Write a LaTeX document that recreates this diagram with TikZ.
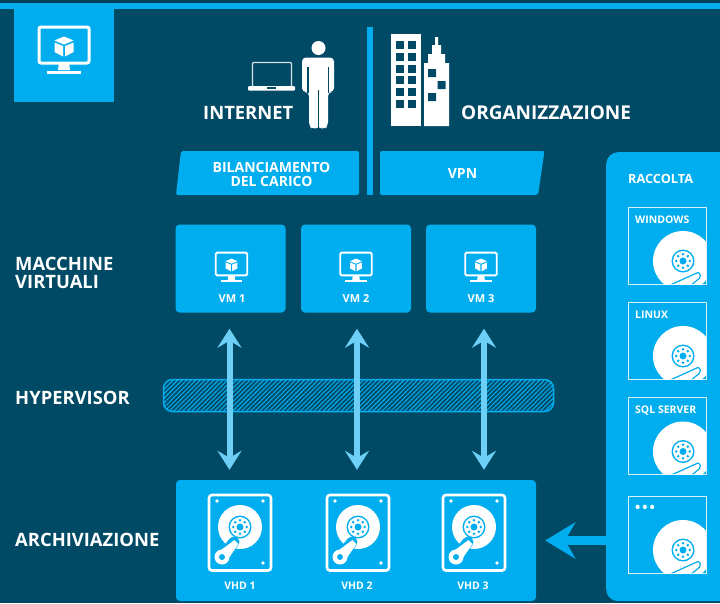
\documentclass[tikz,border=0pt]{standalone}
\usepackage{fontspec}
\setmainfont{Open Sans}
\usetikzlibrary{arrows.meta, patterns.meta}

\definecolor{ground}{RGB}{0, 74, 101}
\definecolor{panel}{RGB}{0, 174, 239}
\definecolor{pale}{RGB}{109, 207, 246}

\tikzset{
  heading/.style = {anchor = west, white, font = \bfseries\fontsize{18.4}{18.5}\selectfont, align = left, inner sep = 0pt},
  boxlabel/.style = {white, font = \bfseries\fontsize{#1}{#1}\selectfont, align = center, inner sep = 0pt},
  boxlabel/.default = 11,
  panelbox/.style = {fill = panel, rounded corners = 4pt, inner sep = 0pt},
  linkarrow/.style = {pale, line width = 6pt, {Stealth[length = 19pt, width = 24pt, inset = 7pt]}-{Stealth[length = 19pt, width = 24pt, inset = 7pt]}, shorten < = 16pt, shorten > = 10pt},
  poolarrow/.style = {panel, line width = 9pt, -{Stealth[length = 30pt, width = 36pt, inset = 10pt]}, shorten > = 9pt}
}

\newcommand{\monitoricon}[3]{
  \begin{scope}[shift = {(#1, #2)}, scale = #3]
    \draw [white, line width = #3 * 3pt, rounded corners = #3 * 2pt] (-25, -18) rectangle (25, 18);
    \fill [white] (-5, 18) -- (5, 18) -- (6, 25) -- (-6, 25) -- cycle;
    \draw [white, line width = #3 * 3pt] (-17, 27) -- (17, 27);
    \fill [white] (0, -8.5) -- (9.5, -4.5) -- (0, -0.5) -- (-9.5, -4.5) -- cycle;
    \fill [white] (-9.5, -2.5) -- (-1, 1) -- (-1, 11.5) -- (-9.5, 7) -- cycle;
    \fill [white] (9.5, -2.5) -- (1, 1) -- (1, 11.5) -- (9.5, 7) -- cycle;
  \end{scope}
}

\newcommand{\hubicon}[2]{
  \fill [panel] (#1, #2) circle (11.5);
  \fill [white] (#1, #2) circle (10);
  \foreach \a in {0, 45, ..., 315}
    \fill [panel] (#1, #2) ++(\a : 6.8) circle (1.4);
  \fill [panel] (#1, #2) circle (3.5);
}

\newcommand{\drivecon}[2]{
  \begin{scope}[shift = {(#1, #2)}]
    \draw [white, line width = 2.6pt, rounded corners = 3pt] (-31, -32) rectangle (31, 43.5);
    \fill [white] (0, 0) circle (22);
    \hubicon{0}{0}
    \fill [white] (-23, -26) circle (1.8) (23, -26) circle (1.8) (23, 36) circle (1.8);
    \fill [panel] (-18, 30) circle (9.5);
    \draw [panel, line width = 11pt, line cap = round] (-6, 15) -- (-18, 30);
    \fill [white] (-5.5, 13) -- (-1.5, 17) -- (-14, 35) -- (-23, 26) -- cycle;
    \fill [white] (-18, 30) circle (7.5);
    \fill [panel] (-18, 30) circle (3);
  \end{scope}
}

\newcommand{\imagecard}[3]{
  \begin{scope}[shift = {(628, #1)}]
    \begin{scope}
      \clip (0, 0) rectangle (78, 77);
      \fill [white] (55, 54) circle (30);
      \hubicon{55}{54}
      \draw [panel, line width = 1.2pt, fill = white, rounded corners = 2pt] (40, 79) -- (71, 65) -- (73, 70) -- (62, 79);
    \end{scope}
    \draw [white, opacity = 0.85, line width = 1pt] (0, 0) rectangle (78, 77);
    \node (#2) [boxlabel = 10.5, anchor = west] at (7, 13) {#3};
  \end{scope}
}

\begin{document}
\begin{tikzpicture}[x = 1pt, y = -1pt]
  \useasboundingbox (0, 0) rectangle (720, 603);
  \clip (0, 0) rectangle (720, 603);
  \fill [ground] (0, 0) rectangle (720, 603);
  \fill [ground!88!black] (0, 0) rectangle (720, 3);
  \fill [panel] (0, 3) rectangle (720, 8.5);
  \fill [panel] (14, 3) rectangle (113.5, 102);
  \monitoricon{64}{45}{1}

  \draw [white!85!ground, line width = 1.1pt, rounded corners = 1pt] (252.5, 62.5) rectangle (291.5, 87);
  \fill [white, rounded corners = 1pt] (248, 86) -- (295, 86) -- (295, 90.5) -- (248, 90.5) -- cycle;
  \fill [ground] (267, 87) rectangle (276, 88.5);
  \fill [white] (318.5, 48) circle (7);
  \fill [white, rounded corners = 4pt] (302, 57.5) -- (334, 57.5) -- (334, 92) -- (328, 92) -- (328, 126) -- (324, 129.5) -- (320, 127) -- (318, 127) -- (313, 129.5) -- (309, 126) -- (309, 92) -- (302, 92) -- cycle;
  \draw [ground, line width = 1.2pt] (308, 67) -- (308, 93) (328.5, 67) -- (328.5, 93) (318.5, 90) -- (318.5, 130);

  \fill [panel] (366.5, 27) rectangle (372.5, 195);

  \fill [white] (391, 34) rectangle (420.5, 126);
  \foreach \r in {0, ..., 5}
    \foreach \c in {0, 1}
      \fill [ground] (396 + \c * 12, 41 + \r * 11.8) rectangle ++(7.5, 8);
  \fill [white] (424, 126) -- (424, 63) -- (428, 63) -- (428, 54) -- (432, 54) -- (432, 45) -- (435, 45) -- (435, 37) -- (438, 37) -- (438, 45) -- (441, 45) -- (441, 54) -- (445, 54) -- (445, 63) -- (449, 63) -- (449, 126) -- cycle;
  \fill [ground] (428, 69) rectangle ++(8, 8) (437.5, 81) rectangle ++(8, 8) (428, 93) rectangle ++(8, 8);

  \node (internet) [heading] at (203, 112.5) {INTERNET};
  \node (organizzazione) [heading, font = \bfseries\fontsize{19}{20}\selectfont] at (461, 112.5) {ORGANIZZAZIONE};

  \fill [panel, rounded corners = 2pt] (181, 151) -- (359, 151) -- (359, 195) -- (176, 195) -- cycle;
  \fill [panel, rounded corners = 2pt] (380, 151) -- (544.5, 151) -- (538, 195) -- (380, 195) -- cycle;
  \node (balancer) [boxlabel = 14] at (271.5, 174.5) {BILANCIAMENTO\\DEL CARICO};
  \node (vpn) [boxlabel = 14] at (462.5, 173.5) {VPN};

  \node (macchine) [heading] at (15, 273) {MACCHINE\\VIRTUALI};
  \node (hypervisor) [heading] at (15, 398) {HYPERVISOR};
  \node (archiviazione) [heading] at (15, 540) {ARCHIVIAZIONE};

  \node (vm1) [panelbox, minimum width = 110pt, minimum height = 88pt] at (230.5, 268.5) {};
  \node (vm2) [panelbox, minimum width = 110pt, minimum height = 88pt] at (356, 268.5) {};
  \node (vm3) [panelbox, minimum width = 110pt, minimum height = 88pt] at (481, 268.5) {};
  \monitoricon{231.5}{264}{0.63}
  \monitoricon{356}{264}{0.63}
  \monitoricon{481}{264}{0.63}
  \node (vmlabel1) [boxlabel = 11] at (232, 299) {VM 1};
  \node (vmlabel2) [boxlabel = 11] at (356, 299) {VM 2};
  \node (vmlabel3) [boxlabel = 11] at (481, 299) {VM 3};

  \node (store) [panelbox, minimum width = 360pt, minimum height = 121pt] at (356, 540.5) {};

  \node (hatchbar) [draw = panel, line width = 1.5pt, rounded corners = 9pt, pattern = {Lines[angle = 45, distance = 3.2pt, line width = 1.1pt]}, pattern color = panel, minimum width = 390pt, minimum height = 32pt, inner sep = 0pt] at (358.5, 395.5) {};

  \draw [linkarrow] ([xshift = -1pt] vm1.south) -- ([xshift = -1pt] vm1.south |- store.north);
  \draw [linkarrow] ([xshift = 1pt] vm2.south) -- ([xshift = 1pt] vm2.south |- store.north);
  \draw [linkarrow] ([xshift = 3pt] vm3.south) -- ([xshift = 3pt] vm3.south |- store.north);

  \drivecon{240}{527}
  \drivecon{358}{527}
  \drivecon{474}{527}
  \node (vhdlabel1) [boxlabel = 10.5] at (240, 586) {VHD 1};
  \node (vhdlabel2) [boxlabel = 10.5] at (357, 586) {VHD 2};
  \node (vhdlabel3) [boxlabel = 10.5] at (473, 586) {VHD 3};

  \node (pool) [panelbox, rounded corners = 12pt, anchor = north west, minimum width = 140pt, minimum height = 449pt] at (606, 152) {};
  \node (raccolta) [boxlabel = 12.7, anchor = west] at (628, 179) {RACCOLTA};
  \imagecard{207}{windows}{WINDOWS}
  \imagecard{302}{linux}{LINUX}
  \imagecard{397.5}{sqlserver}{SQL SERVER}
  \imagecard{496}{others}{\fontsize{14}{14}\selectfont •\hspace{2pt}•\hspace{2pt}•}

  \draw [poolarrow] (pool.west |- store.east) -- (store.east);
\end{tikzpicture}
\end{document}
